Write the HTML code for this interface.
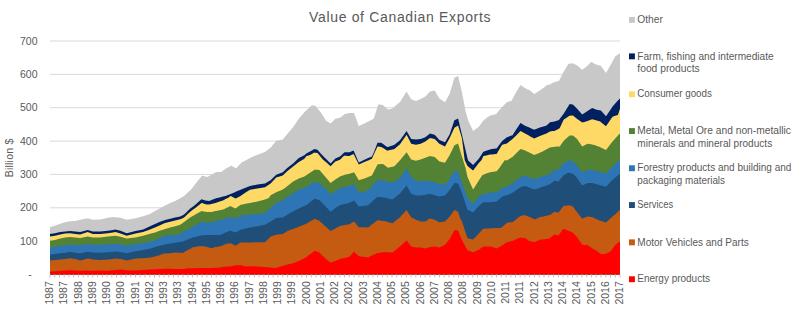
<!DOCTYPE html>
<html><head><meta charset="utf-8"><style>
html,body{margin:0;padding:0;background:#fff;}
body{width:800px;height:310px;overflow:hidden;}
svg{display:block;}
.ax{font-family:"Liberation Sans",sans-serif;font-size:10.5px;fill:#595959;}
.lg{font-family:"Liberation Sans",sans-serif;font-size:10.5px;fill:#595959;}
.tt{font-family:"Liberation Sans",sans-serif;font-size:14px;fill:#595959;}
</style></head><body>
<svg width="800" height="310" viewBox="0 0 800 310">
<rect width="800" height="310" fill="#fff"/>
<text x="31.8" y="278.1" text-anchor="end" class="ax">-</text><line x1="50" x2="620" y1="241.1" y2="241.1" stroke="#d9d9d9" stroke-width="1"/><text x="37.5" y="244.7" text-anchor="end" class="ax">100</text><line x1="50" x2="620" y1="207.8" y2="207.8" stroke="#d9d9d9" stroke-width="1"/><text x="37.5" y="211.4" text-anchor="end" class="ax">200</text><line x1="50" x2="620" y1="174.4" y2="174.4" stroke="#d9d9d9" stroke-width="1"/><text x="37.5" y="178.0" text-anchor="end" class="ax">300</text><line x1="50" x2="620" y1="141.1" y2="141.1" stroke="#d9d9d9" stroke-width="1"/><text x="37.5" y="144.7" text-anchor="end" class="ax">400</text><line x1="50" x2="620" y1="107.7" y2="107.7" stroke="#d9d9d9" stroke-width="1"/><text x="37.5" y="111.3" text-anchor="end" class="ax">500</text><line x1="50" x2="620" y1="74.4" y2="74.4" stroke="#d9d9d9" stroke-width="1"/><text x="37.5" y="78.0" text-anchor="end" class="ax">600</text><line x1="50" x2="620" y1="41.0" y2="41.0" stroke="#d9d9d9" stroke-width="1"/><text x="37.5" y="44.6" text-anchor="end" class="ax">700</text>
<polygon fill="#c8c8c8" points="50.0,274.5 50.0,227.0 55.0,225.7 60.1,223.8 65.1,222.3 70.1,221.3 75.2,221.0 80.2,219.8 87.7,218.2 92.8,219.8 100.3,219.4 107.9,217.8 112.9,216.9 115.4,217.2 120.5,217.8 126.7,219.8 135.5,218.2 143.1,216.3 150.0,214.0 155.0,210.9 160.1,208.3 163.8,206.2 165.1,205.4 170.1,202.9 175.2,201.0 180.2,198.3 182.7,196.8 184.0,196.0 185.2,194.9 187.7,192.6 190.3,190.3 190.9,189.7 192.8,187.3 195.3,184.1 200.3,177.8 201.6,176.2 202.2,175.4 205.4,176.5 207.3,177.1 209.1,176.1 210.4,175.3 211.6,174.6 215.4,172.5 216.1,172.1 220.5,172.1 221.1,172.1 223.0,170.7 225.5,168.8 226.1,168.3 228.0,167.4 230.5,166.1 231.2,165.8 235.5,168.0 236.2,168.3 240.6,163.5 241.2,162.8 245.6,160.4 250.0,158.0 257.5,154.7 265.0,151.9 268.8,149.0 270.6,147.7 274.4,142.9 276.2,140.7 282.8,139.4 285.6,136.0 287.5,133.8 293.1,127.2 298.8,118.7 304.4,112.2 306.2,110.5 310.0,107.0 311.9,105.3 314.2,105.7 314.7,105.8 315.6,106.0 317.5,108.4 319.4,110.8 321.2,113.1 323.1,116.1 325.0,119.1 325.9,120.6 330.6,123.4 335.3,118.8 340.0,117.8 344.2,114.5 344.7,114.1 349.4,113.1 353.6,113.1 354.1,113.2 358.8,125.9 364.4,123.4 368.1,121.6 371.9,119.7 373.8,118.6 377.5,107.0 378.4,104.2 381.2,104.8 383.1,105.2 385.0,106.9 387.3,108.9 387.8,109.4 392.5,108.4 394.4,106.8 400.0,102.0 406.6,91.6 411.2,99.3 415.9,100.9 420.6,99.0 425.3,96.6 430.0,91.5 434.7,90.4 439.4,98.5 445.0,102.2 449.7,93.7 454.4,77.8 458.1,75.9 460.0,83.9 461.9,92.0 464.7,106.8 465.6,111.5 467.5,118.1 468.0,119.8 468.4,121.1 473.1,130.9 478.8,126.8 481.6,122.9 482.5,121.6 483.4,120.4 486.2,118.2 490.0,115.6 491.9,115.3 496.1,114.1 496.6,113.4 499.4,110.0 501.2,107.9 502.2,106.9 505.0,104.1 506.9,102.2 511.6,100.8 512.5,99.1 516.2,92.0 520.0,85.8 520.5,85.0 524.6,87.7 525.5,88.3 525.8,88.5 526.1,88.7 529.3,90.0 529.4,90.0 531.2,91.5 534.3,94.0 534.4,93.9 534.8,93.7 539.3,90.7 539.8,90.4 542.5,88.5 544.4,87.2 545.8,85.9 546.5,85.3 549.5,84.5 550.0,84.4 553.1,82.6 553.7,82.4 554.4,82.2 558.4,81.0 559.0,80.8 559.7,79.4 563.6,71.8 564.3,70.7 567.3,65.7 568.3,64.1 569.6,63.8 572.2,63.2 572.9,63.4 576.9,65.2 582.2,69.7 586.1,67.1 587.5,65.7 591.4,61.8 592.1,62.2 596.0,64.4 596.7,64.7 599.4,65.4 600.0,65.6 600.7,65.8 601.3,66.6 606.0,73.0 611.3,63.7 612.6,61.3 615.2,56.6 617.9,54.6 619.9,53.2 620.0,53.2 620.0,274.5"/><polygon fill="#002060" points="50.0,274.5 50.0,233.9 55.0,233.2 60.1,232.0 65.1,231.4 70.1,231.1 75.2,231.6 80.2,232.0 87.7,229.9 92.8,231.4 100.3,231.6 107.9,230.7 112.9,229.9 115.4,229.5 120.5,230.7 126.7,233.2 135.5,231.1 143.1,229.5 150.0,226.3 155.0,223.9 160.1,221.8 163.8,220.4 165.1,219.9 170.1,218.7 175.2,217.6 180.2,216.4 182.7,215.2 184.0,214.6 185.2,213.4 187.7,211.0 190.3,208.5 190.9,208.1 192.8,206.7 195.3,204.8 200.3,200.3 201.6,199.2 202.2,199.4 205.4,200.4 207.3,200.7 209.1,201.0 210.4,200.5 211.6,200.0 215.4,198.5 216.1,198.3 220.5,197.2 221.1,197.1 223.0,196.6 225.5,196.0 226.1,195.7 228.0,195.0 230.5,193.9 231.2,193.7 235.5,191.9 236.2,191.6 240.6,189.8 241.2,189.5 245.6,187.7 250.0,185.9 257.5,184.6 265.0,183.5 268.8,181.3 270.6,180.3 274.4,176.5 276.2,174.7 282.8,172.3 285.6,169.6 287.5,167.8 293.1,163.5 298.8,157.9 304.4,155.3 306.2,153.5 310.0,151.6 311.9,150.5 314.2,149.1 314.7,149.2 315.6,149.3 317.5,149.7 319.4,151.9 321.2,153.9 323.1,156.1 325.0,157.9 325.9,158.8 330.6,163.4 335.3,158.4 340.0,156.5 344.2,152.4 344.7,152.3 349.4,152.2 353.6,150.6 354.1,151.7 358.8,162.5 364.4,159.7 368.1,158.1 371.9,156.4 373.8,152.4 377.5,142.8 378.4,142.8 381.2,142.8 383.1,144.1 385.0,145.4 387.3,147.0 387.8,146.9 392.5,145.4 394.4,144.8 400.0,140.3 406.6,131.1 411.2,139.0 415.9,139.6 420.6,139.1 425.3,137.2 430.0,133.4 434.7,134.8 439.4,140.0 445.0,142.2 449.7,134.3 454.4,120.3 458.1,118.4 460.0,126.4 461.9,134.5 464.7,146.4 465.6,150.2 467.5,158.3 468.0,160.3 468.4,160.7 473.1,165.0 478.8,158.8 481.6,154.5 482.5,153.1 483.4,151.7 486.2,150.7 490.0,149.4 491.9,149.1 496.1,148.5 496.6,148.4 499.4,144.7 501.2,142.3 502.2,140.9 505.0,138.7 506.9,137.2 511.6,135.6 512.5,135.3 516.2,129.6 520.0,123.7 520.5,123.0 524.6,125.4 525.5,125.9 525.8,126.1 526.1,126.3 529.3,127.6 529.4,127.6 531.2,128.4 534.3,129.7 534.4,129.6 534.8,129.5 539.3,127.7 539.8,127.5 542.5,126.7 544.4,126.2 545.8,125.8 546.5,125.5 549.5,122.7 550.0,122.2 553.1,121.8 553.7,121.8 554.4,121.5 558.4,120.2 559.0,120.0 559.7,119.0 563.6,113.7 564.3,112.7 567.3,107.8 568.3,106.2 569.6,104.1 572.2,104.4 572.9,104.5 576.9,108.5 582.2,114.6 586.1,112.0 587.5,111.0 591.4,108.5 592.1,108.0 596.0,109.5 596.7,109.8 599.4,110.2 600.0,110.3 600.7,110.4 601.3,111.1 606.0,116.3 611.3,108.4 612.6,106.4 615.2,103.6 617.9,100.6 619.9,98.5 620.0,98.5 620.0,274.5"/><polygon fill="#ffd966" points="50.0,274.5 50.0,236.4 55.0,235.8 60.1,234.5 65.1,233.6 70.1,233.2 75.2,233.9 80.2,234.5 87.7,232.0 92.8,233.9 100.3,234.1 107.9,233.2 112.9,232.4 115.4,232.0 120.5,233.6 126.7,235.7 135.5,233.6 143.1,232.0 150.0,229.4 155.0,227.5 160.1,225.2 163.8,223.6 165.1,223.0 170.1,221.8 175.2,220.5 180.2,219.3 182.7,218.2 184.0,217.6 185.2,216.5 187.7,214.1 190.3,211.7 190.9,211.2 192.8,209.8 195.3,207.9 200.3,203.9 201.6,202.9 202.2,203.1 205.4,204.2 207.3,204.4 209.1,204.6 210.4,204.2 211.6,203.9 215.4,202.9 216.1,202.7 220.5,201.2 221.1,201.0 223.0,200.4 225.5,199.1 226.1,198.8 228.0,197.9 230.5,196.0 231.2,196.3 235.5,198.5 236.2,198.2 240.6,196.0 241.2,195.6 245.6,192.6 250.0,189.7 257.5,188.4 265.0,187.2 268.8,184.7 270.6,183.5 274.4,179.5 276.2,177.6 282.8,175.6 285.6,172.8 287.5,170.9 293.1,166.6 298.8,162.1 304.4,158.7 306.2,156.3 310.0,155.0 311.9,153.9 314.2,152.6 314.7,152.7 315.6,152.8 317.5,153.1 319.4,155.3 321.2,157.4 323.1,159.7 325.0,161.3 325.9,162.1 330.6,166.2 335.3,161.6 340.0,159.7 344.2,155.6 344.7,155.7 349.4,155.9 353.6,154.0 354.1,155.0 358.8,164.4 364.4,162.1 368.1,160.4 371.9,158.7 373.8,154.6 377.5,146.5 378.4,146.6 381.2,146.9 383.1,147.9 385.0,149.2 387.3,150.7 387.8,150.6 392.5,149.5 394.4,149.0 400.0,144.3 406.6,134.8 411.2,143.7 415.9,144.7 420.6,143.8 425.3,141.5 430.0,138.1 434.7,139.1 439.4,143.8 445.0,146.6 449.7,138.1 454.4,127.8 458.1,125.4 460.0,131.8 461.9,138.3 464.7,160.0 465.6,161.9 467.5,165.9 468.0,166.3 468.4,166.7 473.1,170.4 478.8,163.1 481.6,159.9 482.5,158.0 483.4,156.0 486.2,155.4 490.0,154.6 491.9,154.5 496.1,154.1 496.6,154.0 499.4,149.3 501.2,146.3 502.2,144.7 505.0,143.9 506.9,143.4 511.6,139.8 512.5,139.1 516.2,135.4 520.0,131.5 520.5,131.1 524.6,133.3 525.5,133.8 525.8,134.0 526.1,134.1 529.3,135.8 529.4,135.9 531.2,136.9 534.3,138.5 534.4,138.5 534.8,138.3 539.3,136.2 539.8,136.0 542.5,135.0 544.4,134.3 545.8,133.8 546.5,133.5 549.5,131.8 550.0,131.6 553.1,131.1 553.7,131.0 554.4,130.9 558.4,128.9 559.0,128.6 559.7,128.2 563.6,119.8 564.3,119.2 567.3,117.2 568.3,116.6 569.6,115.7 572.2,115.6 572.9,115.6 576.9,118.7 582.2,122.6 586.1,121.4 587.5,120.9 591.4,119.6 592.1,119.3 596.0,120.3 596.7,120.5 599.4,121.2 600.0,121.3 600.7,121.9 601.3,122.4 606.0,126.2 611.3,118.5 612.6,116.7 615.2,115.8 617.9,114.9 619.9,109.1 620.0,109.1 620.0,274.5"/><polygon fill="#548235" points="50.0,274.5 50.0,240.8 55.0,239.9 60.1,238.6 65.1,237.4 70.1,237.0 75.2,237.6 80.2,238.0 87.7,236.4 92.8,237.4 100.3,237.4 107.9,236.6 112.9,236.1 115.4,235.8 120.5,236.7 126.7,238.6 135.5,237.4 143.1,235.8 150.0,233.8 155.0,232.5 160.1,230.6 163.8,229.4 165.1,229.0 170.1,227.5 175.2,226.2 180.2,224.7 182.7,222.9 184.0,222.0 185.2,221.2 187.7,219.3 190.3,217.4 190.9,217.0 192.8,216.0 195.3,214.6 200.3,211.8 201.6,211.1 202.2,211.2 205.4,211.7 207.3,211.9 209.1,212.0 210.4,212.1 211.6,211.9 215.4,211.1 216.1,211.0 220.5,210.1 221.1,210.0 223.0,209.6 225.5,208.4 226.1,208.1 228.0,207.2 230.5,206.1 231.2,206.4 235.5,208.6 236.2,208.1 240.6,204.8 241.2,204.7 245.6,203.8 250.0,203.0 257.5,201.4 265.0,199.6 268.8,198.0 270.6,195.3 274.4,193.3 276.2,192.3 282.8,189.5 285.6,187.4 287.5,186.0 293.1,181.5 298.8,178.4 304.4,176.5 306.2,175.3 310.0,172.8 311.9,171.5 314.2,170.0 314.7,169.6 315.6,169.7 317.5,169.8 319.4,170.0 321.2,172.1 323.1,174.3 325.0,176.6 325.9,177.6 330.6,183.1 335.3,179.4 340.0,176.6 344.2,174.9 344.7,174.7 349.4,173.7 353.6,172.4 354.1,172.3 358.8,180.3 364.4,178.4 368.1,177.0 371.9,175.6 373.8,171.8 377.5,164.4 378.4,164.3 381.2,164.1 383.1,164.0 385.0,165.5 387.3,167.3 387.8,167.7 392.5,166.7 394.4,166.2 400.0,160.2 406.6,152.2 411.2,159.6 415.9,160.8 420.6,159.6 425.3,157.8 430.0,155.9 434.7,156.9 439.4,161.5 445.0,162.7 449.7,155.0 454.4,145.2 458.1,143.4 460.0,150.0 461.9,156.6 464.7,165.3 465.6,168.0 467.5,176.9 468.0,178.0 468.4,178.9 473.1,189.6 478.8,180.5 481.6,176.3 482.5,175.0 483.4,174.7 486.2,173.6 490.0,172.2 491.9,171.9 496.1,171.3 496.6,171.2 499.4,168.1 501.2,165.3 502.2,163.7 505.0,160.0 506.9,160.6 511.6,157.5 512.5,156.9 516.2,153.2 520.0,149.4 520.5,148.9 524.6,150.3 525.5,150.7 525.8,150.8 526.1,150.9 529.3,152.5 529.4,152.5 531.2,153.4 534.3,154.9 534.4,155.0 534.8,154.8 539.3,153.1 539.8,152.8 542.5,151.4 544.4,150.4 545.8,149.7 546.5,149.3 549.5,147.8 550.0,147.5 553.1,147.0 553.7,146.9 554.4,146.7 558.4,146.5 559.0,146.5 559.7,146.4 563.6,140.9 564.3,140.2 567.3,137.5 568.3,136.7 569.6,135.5 572.2,135.5 572.9,135.5 576.9,138.8 582.2,146.5 586.1,144.5 587.5,143.8 591.4,144.3 592.1,144.4 596.0,145.6 596.7,145.9 599.4,146.8 600.0,147.1 600.7,147.4 601.3,147.7 606.0,150.0 611.3,143.1 612.6,141.4 615.2,138.6 617.9,135.6 619.9,133.5 620.0,133.5 620.0,274.5"/><polygon fill="#2e75b6" points="50.0,274.5 50.0,247.5 55.0,247.0 60.1,245.7 65.1,244.9 70.1,244.5 75.2,245.0 80.2,245.2 87.7,244.1 92.8,245.0 100.3,244.8 107.9,244.3 112.9,243.9 115.4,243.7 120.5,244.3 126.7,245.7 135.5,244.1 143.1,243.0 150.0,241.6 155.0,240.3 160.1,237.8 163.8,236.2 165.1,235.6 170.1,235.3 175.2,235.0 180.2,233.7 182.7,232.2 184.0,231.4 185.2,230.6 187.7,229.4 190.3,228.1 190.9,227.7 192.8,226.6 195.3,225.2 200.3,222.5 201.6,221.8 202.2,221.9 205.4,222.7 207.3,222.6 209.1,222.5 210.4,222.4 211.6,222.1 215.4,221.2 216.1,221.0 220.5,219.9 221.1,219.7 223.0,219.3 225.5,218.4 226.1,218.2 228.0,217.6 230.5,216.8 231.2,217.0 235.5,218.4 236.2,218.0 240.6,215.5 241.2,215.4 245.6,215.0 250.0,214.6 257.5,214.0 265.0,212.7 268.8,209.5 270.6,208.0 274.4,204.2 276.2,202.4 282.8,200.5 285.6,198.1 287.5,196.8 293.1,193.2 298.8,189.6 304.4,187.7 306.2,187.1 310.0,184.6 311.9,183.3 314.2,181.7 314.7,181.8 315.6,182.0 317.5,182.5 319.4,183.0 321.2,184.6 323.1,186.4 325.0,188.1 325.9,189.1 330.6,194.6 335.3,190.9 340.0,188.1 344.2,187.0 344.7,186.9 349.4,185.7 353.6,184.5 354.1,184.4 358.8,192.3 364.4,191.2 368.1,190.4 371.9,186.1 373.8,183.9 377.5,179.6 378.4,179.8 381.2,180.3 383.1,180.7 385.0,181.0 387.3,181.5 387.8,181.6 392.5,182.4 394.4,181.4 400.0,178.2 406.6,168.5 411.2,176.8 415.9,180.6 420.6,181.6 425.3,180.3 430.0,181.6 434.7,182.1 439.4,184.0 445.0,184.4 449.7,178.7 454.4,170.9 458.1,171.6 460.0,177.1 461.9,182.6 464.7,190.0 465.6,192.4 467.5,197.5 468.0,198.1 468.4,198.5 473.1,204.0 478.8,196.5 481.6,194.9 482.5,194.3 483.4,193.8 486.2,193.4 490.0,192.8 491.9,192.6 496.1,192.3 496.6,192.2 499.4,190.2 501.2,188.8 502.2,188.1 505.0,187.0 506.9,186.2 511.6,183.9 512.5,183.4 516.2,180.4 520.0,177.4 520.5,177.0 524.6,176.1 525.5,175.9 525.8,176.0 526.1,176.1 529.3,177.3 529.4,177.4 531.2,178.1 534.3,179.3 534.4,179.2 534.8,179.0 539.3,177.2 539.8,177.0 542.5,176.3 544.4,175.7 545.8,175.3 546.5,175.1 549.5,174.2 550.0,174.1 553.1,170.9 553.7,170.3 554.4,169.6 558.4,169.8 559.0,169.0 559.7,168.2 563.6,163.3 564.3,162.9 567.3,161.4 568.3,161.0 569.6,160.3 572.2,161.0 572.9,161.2 576.9,165.2 582.2,172.5 586.1,170.5 587.5,169.8 591.4,169.8 592.1,169.8 596.0,170.9 596.7,171.1 599.4,171.8 600.0,172.0 600.7,172.2 601.3,172.3 606.0,173.5 611.3,167.9 612.6,166.5 615.2,164.2 617.9,161.7 619.9,159.9 620.0,159.9 620.0,274.5"/><polygon fill="#1f4e79" points="50.0,274.5 50.0,254.5 55.0,254.1 60.1,253.2 65.1,252.8 70.1,251.8 75.2,252.7 80.2,253.3 87.7,251.7 92.8,252.5 100.3,252.7 107.9,252.2 112.9,251.7 115.4,251.4 120.5,252.0 126.7,253.3 135.5,251.3 143.1,250.1 150.0,248.7 155.0,247.0 160.1,245.7 163.8,244.8 165.1,244.4 170.1,243.6 175.2,242.8 180.2,242.0 182.7,241.5 184.0,241.0 185.2,240.5 187.7,239.4 190.3,238.4 190.9,238.2 192.8,237.5 195.3,236.9 200.3,235.6 201.6,235.5 202.2,235.4 205.4,235.0 207.3,235.0 209.1,235.0 210.4,235.0 211.6,235.0 215.4,235.0 216.1,235.0 220.5,235.0 221.1,234.7 223.0,233.7 225.5,232.5 226.1,232.3 228.0,231.5 230.5,230.6 231.2,230.9 235.5,232.5 236.2,232.1 240.6,229.7 241.2,229.6 245.6,228.5 250.0,227.5 257.5,226.3 265.0,224.7 268.8,222.4 270.6,221.4 274.4,219.2 276.2,218.1 282.8,217.4 285.6,215.7 287.5,214.6 293.1,211.4 298.8,208.4 304.4,206.0 306.2,205.2 310.0,202.3 311.9,200.8 314.2,199.0 314.7,198.6 315.6,198.9 317.5,199.5 319.4,200.1 321.2,201.9 323.1,203.9 325.0,205.8 325.9,206.7 330.6,211.7 335.3,208.0 340.0,205.2 344.2,204.1 344.7,204.0 349.4,202.7 353.6,200.7 354.1,200.5 358.8,206.5 364.4,205.7 368.1,205.2 371.9,201.8 373.8,200.1 377.5,196.8 378.4,196.9 381.2,197.2 383.1,197.4 385.0,197.7 387.3,198.3 387.8,198.4 392.5,199.6 394.4,198.0 400.0,193.6 406.6,185.4 411.2,193.7 415.9,195.6 420.6,195.6 425.3,194.7 430.0,193.8 434.7,195.3 439.4,196.6 445.0,195.6 449.7,190.0 454.4,182.9 458.1,183.4 460.0,188.1 461.9,192.9 464.7,201.3 465.6,204.0 467.5,209.7 468.0,209.9 468.4,210.1 473.1,212.5 478.8,205.9 481.6,203.7 482.5,202.9 483.4,202.2 486.2,202.2 490.0,202.2 491.9,202.0 496.1,201.7 496.6,201.6 499.4,199.1 501.2,197.5 502.2,196.6 505.0,195.8 506.9,195.2 511.6,193.2 512.5,192.8 516.2,190.2 520.0,187.4 520.5,187.1 524.6,186.2 525.5,186.0 525.8,186.1 526.1,186.2 529.3,187.6 529.4,187.6 531.2,188.4 534.3,189.6 534.4,189.6 534.8,189.5 539.3,187.9 539.8,187.7 542.5,186.8 544.4,186.2 545.8,185.7 546.5,185.4 549.5,184.2 550.0,184.0 553.1,181.7 553.7,181.2 554.4,180.7 558.4,181.4 559.0,180.7 559.7,179.9 563.6,175.2 564.3,174.8 567.3,173.2 568.3,172.8 569.6,173.1 572.2,173.6 572.9,173.8 576.9,177.8 582.2,185.4 586.1,183.7 587.5,183.1 591.4,183.1 592.1,183.1 596.0,184.1 596.7,184.3 599.4,185.1 600.0,185.2 600.7,185.4 601.3,185.6 606.0,186.7 611.3,181.1 612.6,179.7 615.2,177.6 617.9,175.4 619.9,173.8 620.0,173.8 620.0,274.5"/><polygon fill="#c55a11" points="50.0,274.5 50.0,260.4 55.0,260.1 60.1,259.5 65.1,258.9 70.1,258.2 75.2,259.1 80.2,260.4 87.7,258.6 92.8,259.5 100.3,259.9 107.9,259.5 112.9,258.9 115.4,258.6 120.5,259.1 126.7,260.4 135.5,258.6 143.1,258.2 150.0,257.5 155.0,256.4 160.1,255.1 163.8,253.6 165.1,253.5 170.1,253.2 175.2,252.6 180.2,252.8 182.7,252.9 184.0,252.2 185.2,251.5 187.7,250.1 190.3,248.7 190.9,248.4 192.8,247.3 195.3,246.9 200.3,246.1 201.6,246.2 202.2,246.3 205.4,246.6 207.3,247.1 209.1,247.5 210.4,247.9 211.6,248.2 215.4,247.0 216.1,246.9 220.5,246.3 221.1,246.0 223.0,245.2 225.5,244.1 226.1,244.0 228.0,243.6 230.5,243.2 231.2,243.5 235.5,245.7 236.2,245.3 240.6,242.5 241.2,242.5 245.6,242.5 250.0,242.5 257.5,242.2 265.0,242.2 268.8,238.4 270.6,236.6 274.4,235.2 276.2,234.8 282.8,234.0 285.6,232.2 287.5,231.0 293.1,228.9 298.8,226.7 304.4,224.5 306.2,223.7 310.0,221.6 311.9,220.5 314.2,219.1 314.7,218.8 315.6,219.2 317.5,220.0 319.4,220.7 321.2,222.5 323.1,224.3 325.0,226.1 325.9,226.8 330.6,230.9 335.3,228.5 340.0,226.1 344.2,225.2 344.7,225.1 349.4,224.2 353.6,221.7 354.1,221.4 358.8,227.2 364.4,227.3 368.1,227.4 371.9,224.5 373.8,223.0 377.5,220.2 378.4,220.3 381.2,220.7 383.1,220.9 385.0,221.2 387.3,221.8 387.8,222.0 392.5,223.2 394.4,221.8 400.0,217.3 406.6,209.9 411.2,217.3 415.9,219.7 420.6,221.6 425.3,221.6 430.0,218.4 434.7,219.8 439.4,222.2 445.0,221.6 449.7,216.4 454.4,209.9 458.1,211.7 460.0,218.1 461.9,221.3 464.7,229.7 465.6,232.4 467.5,238.1 468.0,238.3 468.4,238.4 473.1,239.6 478.8,233.4 481.6,230.6 482.5,229.7 483.4,228.8 486.2,228.6 490.0,228.4 491.9,228.3 496.1,228.1 496.6,228.0 499.4,227.9 501.2,227.8 502.2,227.0 505.0,224.4 506.9,222.7 511.6,222.3 512.5,222.2 516.2,219.2 520.0,216.2 520.5,216.1 524.6,215.0 525.5,215.4 525.8,215.5 526.1,215.6 529.3,217.0 529.4,217.0 531.2,217.8 534.3,219.2 534.4,219.2 534.8,219.4 539.3,217.4 539.8,217.1 542.5,216.7 544.4,216.3 545.8,215.9 546.5,215.8 549.5,215.1 550.0,215.0 553.1,212.8 553.7,212.3 554.4,211.8 558.4,212.7 559.0,211.9 559.7,211.0 563.6,205.9 564.3,205.8 567.3,205.5 568.3,205.4 569.6,205.2 572.2,206.3 572.9,206.5 576.9,211.9 582.2,218.8 586.1,217.1 587.5,216.5 591.4,217.0 592.1,217.1 596.0,218.9 596.7,219.2 599.4,220.4 600.0,220.6 600.7,220.8 601.3,221.0 606.0,222.4 611.3,217.6 612.6,216.4 615.2,214.2 617.9,211.8 619.9,210.1 620.0,210.1 620.0,274.5"/><polygon fill="#ff0000" points="50.0,274.5 50.0,271.5 55.0,271.2 60.1,270.8 65.1,270.4 70.1,270.2 75.2,270.6 80.2,270.8 87.7,270.6 92.8,270.8 100.3,270.6 107.9,270.8 112.9,270.2 115.4,269.9 120.5,269.6 126.7,270.2 135.5,270.4 143.1,269.9 150.0,269.6 155.0,269.2 160.1,269.0 163.8,268.8 165.1,268.7 170.1,268.7 175.2,269.0 180.2,269.0 182.7,269.0 184.0,268.8 185.2,268.7 187.7,268.3 190.3,268.3 190.9,268.3 192.8,268.3 195.3,268.2 200.3,268.0 201.6,268.0 202.2,268.0 205.4,268.0 207.3,268.0 209.1,268.0 210.4,268.0 211.6,268.0 215.4,267.7 216.1,267.7 220.5,267.4 221.1,267.3 223.0,266.9 225.5,266.5 226.1,266.5 228.0,266.5 230.5,266.5 231.2,266.3 235.5,265.2 236.2,265.2 240.6,265.2 241.2,265.3 245.6,266.4 250.0,266.2 257.5,266.6 265.0,267.0 268.8,267.4 270.6,267.6 274.4,267.9 276.2,268.1 282.8,265.7 285.6,264.9 287.5,264.4 293.1,263.3 298.8,261.0 304.4,258.2 306.2,257.3 310.0,254.3 311.9,252.9 314.2,251.1 314.7,250.7 315.6,251.1 317.5,251.8 319.4,252.6 321.2,254.4 323.1,256.3 325.0,258.2 325.9,258.9 330.6,262.5 335.3,261.0 340.0,259.1 344.2,258.1 344.7,258.0 349.4,256.8 353.6,252.1 354.1,251.7 358.8,256.3 364.4,256.9 368.1,257.2 371.9,255.6 373.8,254.8 377.5,253.1 378.4,253.0 381.2,252.6 383.1,252.3 385.0,252.0 387.3,252.2 387.8,252.2 392.5,252.6 394.4,251.0 400.0,246.6 406.6,240.4 411.2,246.5 415.9,247.5 420.6,247.5 425.3,248.4 430.0,247.1 434.7,246.6 439.4,247.5 445.0,244.7 449.7,239.0 454.4,230.3 458.1,230.6 460.0,235.3 461.9,240.0 464.7,245.2 465.6,246.8 467.5,250.3 468.0,250.5 468.4,250.6 473.1,252.2 478.8,249.7 481.6,247.8 482.5,247.2 483.4,246.6 486.2,246.6 490.0,246.6 491.9,247.1 496.1,248.3 496.6,248.4 499.4,247.0 501.2,246.1 502.2,245.6 505.0,243.6 506.9,242.2 511.6,241.1 512.5,240.9 516.2,239.3 520.0,237.7 520.5,237.5 524.6,238.2 525.5,238.3 525.8,238.5 526.1,238.7 529.3,240.9 529.4,240.9 531.2,241.5 534.3,242.0 534.4,242.0 534.8,242.0 539.3,240.0 539.8,239.8 542.5,239.6 544.4,239.3 545.8,239.0 546.5,238.9 549.5,238.4 550.0,238.0 553.1,235.5 553.7,235.1 554.4,234.5 558.4,235.5 559.0,234.7 559.7,233.8 563.6,228.6 564.3,228.9 567.3,230.3 568.3,230.7 569.6,231.3 572.2,232.4 572.9,232.7 576.9,236.9 582.2,244.8 586.1,245.0 587.5,245.1 591.4,247.7 592.1,248.2 596.0,250.4 596.7,250.8 599.4,252.9 600.0,253.3 600.7,253.9 601.3,254.3 606.0,253.8 611.3,250.7 612.6,248.8 615.2,244.9 617.9,242.9 619.9,241.5 620.0,241.5 620.0,274.5"/>
<line x1="50.00" x2="50.00" y1="274.5" y2="277.5" stroke="#bfbfbf" stroke-width="1"/><line x1="54.75" x2="54.75" y1="274.5" y2="277.5" stroke="#bfbfbf" stroke-width="1"/><line x1="59.50" x2="59.50" y1="274.5" y2="277.5" stroke="#bfbfbf" stroke-width="1"/><line x1="64.25" x2="64.25" y1="274.5" y2="277.5" stroke="#bfbfbf" stroke-width="1"/><line x1="69.00" x2="69.00" y1="274.5" y2="277.5" stroke="#bfbfbf" stroke-width="1"/><line x1="73.75" x2="73.75" y1="274.5" y2="277.5" stroke="#bfbfbf" stroke-width="1"/><line x1="78.50" x2="78.50" y1="274.5" y2="277.5" stroke="#bfbfbf" stroke-width="1"/><line x1="83.25" x2="83.25" y1="274.5" y2="277.5" stroke="#bfbfbf" stroke-width="1"/><line x1="88.00" x2="88.00" y1="274.5" y2="277.5" stroke="#bfbfbf" stroke-width="1"/><line x1="92.75" x2="92.75" y1="274.5" y2="277.5" stroke="#bfbfbf" stroke-width="1"/><line x1="97.50" x2="97.50" y1="274.5" y2="277.5" stroke="#bfbfbf" stroke-width="1"/><line x1="102.25" x2="102.25" y1="274.5" y2="277.5" stroke="#bfbfbf" stroke-width="1"/><line x1="107.00" x2="107.00" y1="274.5" y2="277.5" stroke="#bfbfbf" stroke-width="1"/><line x1="111.75" x2="111.75" y1="274.5" y2="277.5" stroke="#bfbfbf" stroke-width="1"/><line x1="116.50" x2="116.50" y1="274.5" y2="277.5" stroke="#bfbfbf" stroke-width="1"/><line x1="121.25" x2="121.25" y1="274.5" y2="277.5" stroke="#bfbfbf" stroke-width="1"/><line x1="126.00" x2="126.00" y1="274.5" y2="277.5" stroke="#bfbfbf" stroke-width="1"/><line x1="130.75" x2="130.75" y1="274.5" y2="277.5" stroke="#bfbfbf" stroke-width="1"/><line x1="135.50" x2="135.50" y1="274.5" y2="277.5" stroke="#bfbfbf" stroke-width="1"/><line x1="140.25" x2="140.25" y1="274.5" y2="277.5" stroke="#bfbfbf" stroke-width="1"/><line x1="145.00" x2="145.00" y1="274.5" y2="277.5" stroke="#bfbfbf" stroke-width="1"/><line x1="149.75" x2="149.75" y1="274.5" y2="277.5" stroke="#bfbfbf" stroke-width="1"/><line x1="154.50" x2="154.50" y1="274.5" y2="277.5" stroke="#bfbfbf" stroke-width="1"/><line x1="159.25" x2="159.25" y1="274.5" y2="277.5" stroke="#bfbfbf" stroke-width="1"/><line x1="164.00" x2="164.00" y1="274.5" y2="277.5" stroke="#bfbfbf" stroke-width="1"/><line x1="168.75" x2="168.75" y1="274.5" y2="277.5" stroke="#bfbfbf" stroke-width="1"/><line x1="173.50" x2="173.50" y1="274.5" y2="277.5" stroke="#bfbfbf" stroke-width="1"/><line x1="178.25" x2="178.25" y1="274.5" y2="277.5" stroke="#bfbfbf" stroke-width="1"/><line x1="183.00" x2="183.00" y1="274.5" y2="277.5" stroke="#bfbfbf" stroke-width="1"/><line x1="187.75" x2="187.75" y1="274.5" y2="277.5" stroke="#bfbfbf" stroke-width="1"/><line x1="192.50" x2="192.50" y1="274.5" y2="277.5" stroke="#bfbfbf" stroke-width="1"/><line x1="197.25" x2="197.25" y1="274.5" y2="277.5" stroke="#bfbfbf" stroke-width="1"/><line x1="202.00" x2="202.00" y1="274.5" y2="277.5" stroke="#bfbfbf" stroke-width="1"/><line x1="206.75" x2="206.75" y1="274.5" y2="277.5" stroke="#bfbfbf" stroke-width="1"/><line x1="211.50" x2="211.50" y1="274.5" y2="277.5" stroke="#bfbfbf" stroke-width="1"/><line x1="216.25" x2="216.25" y1="274.5" y2="277.5" stroke="#bfbfbf" stroke-width="1"/><line x1="221.00" x2="221.00" y1="274.5" y2="277.5" stroke="#bfbfbf" stroke-width="1"/><line x1="225.75" x2="225.75" y1="274.5" y2="277.5" stroke="#bfbfbf" stroke-width="1"/><line x1="230.50" x2="230.50" y1="274.5" y2="277.5" stroke="#bfbfbf" stroke-width="1"/><line x1="235.25" x2="235.25" y1="274.5" y2="277.5" stroke="#bfbfbf" stroke-width="1"/><line x1="240.00" x2="240.00" y1="274.5" y2="277.5" stroke="#bfbfbf" stroke-width="1"/><line x1="244.75" x2="244.75" y1="274.5" y2="277.5" stroke="#bfbfbf" stroke-width="1"/><line x1="249.50" x2="249.50" y1="274.5" y2="277.5" stroke="#bfbfbf" stroke-width="1"/><line x1="254.25" x2="254.25" y1="274.5" y2="277.5" stroke="#bfbfbf" stroke-width="1"/><line x1="259.00" x2="259.00" y1="274.5" y2="277.5" stroke="#bfbfbf" stroke-width="1"/><line x1="263.75" x2="263.75" y1="274.5" y2="277.5" stroke="#bfbfbf" stroke-width="1"/><line x1="268.50" x2="268.50" y1="274.5" y2="277.5" stroke="#bfbfbf" stroke-width="1"/><line x1="273.25" x2="273.25" y1="274.5" y2="277.5" stroke="#bfbfbf" stroke-width="1"/><line x1="278.00" x2="278.00" y1="274.5" y2="277.5" stroke="#bfbfbf" stroke-width="1"/><line x1="282.75" x2="282.75" y1="274.5" y2="277.5" stroke="#bfbfbf" stroke-width="1"/><line x1="287.50" x2="287.50" y1="274.5" y2="277.5" stroke="#bfbfbf" stroke-width="1"/><line x1="292.25" x2="292.25" y1="274.5" y2="277.5" stroke="#bfbfbf" stroke-width="1"/><line x1="297.00" x2="297.00" y1="274.5" y2="277.5" stroke="#bfbfbf" stroke-width="1"/><line x1="301.75" x2="301.75" y1="274.5" y2="277.5" stroke="#bfbfbf" stroke-width="1"/><line x1="306.50" x2="306.50" y1="274.5" y2="277.5" stroke="#bfbfbf" stroke-width="1"/><line x1="311.25" x2="311.25" y1="274.5" y2="277.5" stroke="#bfbfbf" stroke-width="1"/><line x1="316.00" x2="316.00" y1="274.5" y2="277.5" stroke="#bfbfbf" stroke-width="1"/><line x1="320.75" x2="320.75" y1="274.5" y2="277.5" stroke="#bfbfbf" stroke-width="1"/><line x1="325.50" x2="325.50" y1="274.5" y2="277.5" stroke="#bfbfbf" stroke-width="1"/><line x1="330.25" x2="330.25" y1="274.5" y2="277.5" stroke="#bfbfbf" stroke-width="1"/><line x1="335.00" x2="335.00" y1="274.5" y2="277.5" stroke="#bfbfbf" stroke-width="1"/><line x1="339.75" x2="339.75" y1="274.5" y2="277.5" stroke="#bfbfbf" stroke-width="1"/><line x1="344.50" x2="344.50" y1="274.5" y2="277.5" stroke="#bfbfbf" stroke-width="1"/><line x1="349.25" x2="349.25" y1="274.5" y2="277.5" stroke="#bfbfbf" stroke-width="1"/><line x1="354.00" x2="354.00" y1="274.5" y2="277.5" stroke="#bfbfbf" stroke-width="1"/><line x1="358.75" x2="358.75" y1="274.5" y2="277.5" stroke="#bfbfbf" stroke-width="1"/><line x1="363.50" x2="363.50" y1="274.5" y2="277.5" stroke="#bfbfbf" stroke-width="1"/><line x1="368.25" x2="368.25" y1="274.5" y2="277.5" stroke="#bfbfbf" stroke-width="1"/><line x1="373.00" x2="373.00" y1="274.5" y2="277.5" stroke="#bfbfbf" stroke-width="1"/><line x1="377.75" x2="377.75" y1="274.5" y2="277.5" stroke="#bfbfbf" stroke-width="1"/><line x1="382.50" x2="382.50" y1="274.5" y2="277.5" stroke="#bfbfbf" stroke-width="1"/><line x1="387.25" x2="387.25" y1="274.5" y2="277.5" stroke="#bfbfbf" stroke-width="1"/><line x1="392.00" x2="392.00" y1="274.5" y2="277.5" stroke="#bfbfbf" stroke-width="1"/><line x1="396.75" x2="396.75" y1="274.5" y2="277.5" stroke="#bfbfbf" stroke-width="1"/><line x1="401.50" x2="401.50" y1="274.5" y2="277.5" stroke="#bfbfbf" stroke-width="1"/><line x1="406.25" x2="406.25" y1="274.5" y2="277.5" stroke="#bfbfbf" stroke-width="1"/><line x1="411.00" x2="411.00" y1="274.5" y2="277.5" stroke="#bfbfbf" stroke-width="1"/><line x1="415.75" x2="415.75" y1="274.5" y2="277.5" stroke="#bfbfbf" stroke-width="1"/><line x1="420.50" x2="420.50" y1="274.5" y2="277.5" stroke="#bfbfbf" stroke-width="1"/><line x1="425.25" x2="425.25" y1="274.5" y2="277.5" stroke="#bfbfbf" stroke-width="1"/><line x1="430.00" x2="430.00" y1="274.5" y2="277.5" stroke="#bfbfbf" stroke-width="1"/><line x1="434.75" x2="434.75" y1="274.5" y2="277.5" stroke="#bfbfbf" stroke-width="1"/><line x1="439.50" x2="439.50" y1="274.5" y2="277.5" stroke="#bfbfbf" stroke-width="1"/><line x1="444.25" x2="444.25" y1="274.5" y2="277.5" stroke="#bfbfbf" stroke-width="1"/><line x1="449.00" x2="449.00" y1="274.5" y2="277.5" stroke="#bfbfbf" stroke-width="1"/><line x1="453.75" x2="453.75" y1="274.5" y2="277.5" stroke="#bfbfbf" stroke-width="1"/><line x1="458.50" x2="458.50" y1="274.5" y2="277.5" stroke="#bfbfbf" stroke-width="1"/><line x1="463.25" x2="463.25" y1="274.5" y2="277.5" stroke="#bfbfbf" stroke-width="1"/><line x1="468.00" x2="468.00" y1="274.5" y2="277.5" stroke="#bfbfbf" stroke-width="1"/><line x1="472.75" x2="472.75" y1="274.5" y2="277.5" stroke="#bfbfbf" stroke-width="1"/><line x1="477.50" x2="477.50" y1="274.5" y2="277.5" stroke="#bfbfbf" stroke-width="1"/><line x1="482.25" x2="482.25" y1="274.5" y2="277.5" stroke="#bfbfbf" stroke-width="1"/><line x1="487.00" x2="487.00" y1="274.5" y2="277.5" stroke="#bfbfbf" stroke-width="1"/><line x1="491.75" x2="491.75" y1="274.5" y2="277.5" stroke="#bfbfbf" stroke-width="1"/><line x1="496.50" x2="496.50" y1="274.5" y2="277.5" stroke="#bfbfbf" stroke-width="1"/><line x1="501.25" x2="501.25" y1="274.5" y2="277.5" stroke="#bfbfbf" stroke-width="1"/><line x1="506.00" x2="506.00" y1="274.5" y2="277.5" stroke="#bfbfbf" stroke-width="1"/><line x1="510.75" x2="510.75" y1="274.5" y2="277.5" stroke="#bfbfbf" stroke-width="1"/><line x1="515.50" x2="515.50" y1="274.5" y2="277.5" stroke="#bfbfbf" stroke-width="1"/><line x1="520.25" x2="520.25" y1="274.5" y2="277.5" stroke="#bfbfbf" stroke-width="1"/><line x1="525.00" x2="525.00" y1="274.5" y2="277.5" stroke="#bfbfbf" stroke-width="1"/><line x1="529.75" x2="529.75" y1="274.5" y2="277.5" stroke="#bfbfbf" stroke-width="1"/><line x1="534.50" x2="534.50" y1="274.5" y2="277.5" stroke="#bfbfbf" stroke-width="1"/><line x1="539.25" x2="539.25" y1="274.5" y2="277.5" stroke="#bfbfbf" stroke-width="1"/><line x1="544.00" x2="544.00" y1="274.5" y2="277.5" stroke="#bfbfbf" stroke-width="1"/><line x1="548.75" x2="548.75" y1="274.5" y2="277.5" stroke="#bfbfbf" stroke-width="1"/><line x1="553.50" x2="553.50" y1="274.5" y2="277.5" stroke="#bfbfbf" stroke-width="1"/><line x1="558.25" x2="558.25" y1="274.5" y2="277.5" stroke="#bfbfbf" stroke-width="1"/><line x1="563.00" x2="563.00" y1="274.5" y2="277.5" stroke="#bfbfbf" stroke-width="1"/><line x1="567.75" x2="567.75" y1="274.5" y2="277.5" stroke="#bfbfbf" stroke-width="1"/><line x1="572.50" x2="572.50" y1="274.5" y2="277.5" stroke="#bfbfbf" stroke-width="1"/><line x1="577.25" x2="577.25" y1="274.5" y2="277.5" stroke="#bfbfbf" stroke-width="1"/><line x1="582.00" x2="582.00" y1="274.5" y2="277.5" stroke="#bfbfbf" stroke-width="1"/><line x1="586.75" x2="586.75" y1="274.5" y2="277.5" stroke="#bfbfbf" stroke-width="1"/><line x1="591.50" x2="591.50" y1="274.5" y2="277.5" stroke="#bfbfbf" stroke-width="1"/><line x1="596.25" x2="596.25" y1="274.5" y2="277.5" stroke="#bfbfbf" stroke-width="1"/><line x1="601.00" x2="601.00" y1="274.5" y2="277.5" stroke="#bfbfbf" stroke-width="1"/><line x1="605.75" x2="605.75" y1="274.5" y2="277.5" stroke="#bfbfbf" stroke-width="1"/><line x1="610.50" x2="610.50" y1="274.5" y2="277.5" stroke="#bfbfbf" stroke-width="1"/><line x1="615.25" x2="615.25" y1="274.5" y2="277.5" stroke="#bfbfbf" stroke-width="1"/><line x1="620.00" x2="620.00" y1="274.5" y2="277.5" stroke="#bfbfbf" stroke-width="1"/>
<text transform="translate(53.20,281.2) rotate(-90)" text-anchor="end" class="ax">1987</text><text transform="translate(67.45,281.2) rotate(-90)" text-anchor="end" class="ax">1987</text><text transform="translate(81.70,281.2) rotate(-90)" text-anchor="end" class="ax">1988</text><text transform="translate(95.95,281.2) rotate(-90)" text-anchor="end" class="ax">1989</text><text transform="translate(110.20,281.2) rotate(-90)" text-anchor="end" class="ax">1990</text><text transform="translate(124.45,281.2) rotate(-90)" text-anchor="end" class="ax">1990</text><text transform="translate(138.70,281.2) rotate(-90)" text-anchor="end" class="ax">1991</text><text transform="translate(152.95,281.2) rotate(-90)" text-anchor="end" class="ax">1992</text><text transform="translate(167.20,281.2) rotate(-90)" text-anchor="end" class="ax">1993</text><text transform="translate(181.45,281.2) rotate(-90)" text-anchor="end" class="ax">1993</text><text transform="translate(195.70,281.2) rotate(-90)" text-anchor="end" class="ax">1994</text><text transform="translate(209.95,281.2) rotate(-90)" text-anchor="end" class="ax">1995</text><text transform="translate(224.20,281.2) rotate(-90)" text-anchor="end" class="ax">1996</text><text transform="translate(238.45,281.2) rotate(-90)" text-anchor="end" class="ax">1996</text><text transform="translate(252.70,281.2) rotate(-90)" text-anchor="end" class="ax">1997</text><text transform="translate(266.95,281.2) rotate(-90)" text-anchor="end" class="ax">1998</text><text transform="translate(281.20,281.2) rotate(-90)" text-anchor="end" class="ax">1999</text><text transform="translate(295.45,281.2) rotate(-90)" text-anchor="end" class="ax">1999</text><text transform="translate(309.70,281.2) rotate(-90)" text-anchor="end" class="ax">2000</text><text transform="translate(323.95,281.2) rotate(-90)" text-anchor="end" class="ax">2001</text><text transform="translate(338.20,281.2) rotate(-90)" text-anchor="end" class="ax">2002</text><text transform="translate(352.45,281.2) rotate(-90)" text-anchor="end" class="ax">2002</text><text transform="translate(366.70,281.2) rotate(-90)" text-anchor="end" class="ax">2003</text><text transform="translate(380.95,281.2) rotate(-90)" text-anchor="end" class="ax">2004</text><text transform="translate(395.20,281.2) rotate(-90)" text-anchor="end" class="ax">2005</text><text transform="translate(409.45,281.2) rotate(-90)" text-anchor="end" class="ax">2005</text><text transform="translate(423.70,281.2) rotate(-90)" text-anchor="end" class="ax">2006</text><text transform="translate(437.95,281.2) rotate(-90)" text-anchor="end" class="ax">2007</text><text transform="translate(452.20,281.2) rotate(-90)" text-anchor="end" class="ax">2008</text><text transform="translate(466.45,281.2) rotate(-90)" text-anchor="end" class="ax">2008</text><text transform="translate(480.70,281.2) rotate(-90)" text-anchor="end" class="ax">2009</text><text transform="translate(494.95,281.2) rotate(-90)" text-anchor="end" class="ax">2010</text><text transform="translate(509.20,281.2) rotate(-90)" text-anchor="end" class="ax">2011</text><text transform="translate(523.45,281.2) rotate(-90)" text-anchor="end" class="ax">2011</text><text transform="translate(537.70,281.2) rotate(-90)" text-anchor="end" class="ax">2012</text><text transform="translate(551.95,281.2) rotate(-90)" text-anchor="end" class="ax">2013</text><text transform="translate(566.20,281.2) rotate(-90)" text-anchor="end" class="ax">2014</text><text transform="translate(580.45,281.2) rotate(-90)" text-anchor="end" class="ax">2014</text><text transform="translate(594.70,281.2) rotate(-90)" text-anchor="end" class="ax">2015</text><text transform="translate(608.95,281.2) rotate(-90)" text-anchor="end" class="ax">2016</text><text transform="translate(623.20,281.2) rotate(-90)" text-anchor="end" class="ax">2017</text>
<text x="309" y="21.9" class="tt" textLength="181.5" lengthAdjust="spacing">Value of Canadian Exports</text>
<text transform="translate(12.8,177.3) rotate(-90)" class="ax" textLength="38.6" lengthAdjust="spacing">Billion $</text>
<rect x="629" y="16.9" width="5.9" height="5.9" fill="#c8c8c8"/><text x="637.3" y="22.9" class="lg" textLength="25.6" lengthAdjust="spacingAndGlyphs">Other</text><rect x="629" y="53.4" width="5.9" height="5.9" fill="#002060"/><text x="637.3" y="59.5" class="lg" textLength="136.3" lengthAdjust="spacingAndGlyphs">Farm, fishing and intermediate</text><text x="637.3" y="72.1" class="lg" textLength="62.4" lengthAdjust="spacingAndGlyphs">food products</text><rect x="629" y="91.3" width="5.9" height="5.9" fill="#ffd966"/><text x="637.3" y="97.4" class="lg" textLength="74.6" lengthAdjust="spacingAndGlyphs">Consumer goods</text><rect x="629" y="128.1" width="5.9" height="5.9" fill="#548235"/><text x="637.3" y="134.2" class="lg" textLength="153.60000000000002" lengthAdjust="spacingAndGlyphs">Metal, Metal Ore and non-metallic</text><text x="637.3" y="146.8" class="lg" textLength="134.9" lengthAdjust="spacingAndGlyphs">minerals and mineral products</text><rect x="629" y="165.3" width="5.9" height="5.9" fill="#2e75b6"/><text x="637.3" y="171.4" class="lg" textLength="154.10000000000002" lengthAdjust="spacingAndGlyphs">Forestry products and building and</text><text x="637.3" y="184.0" class="lg" textLength="87.7" lengthAdjust="spacingAndGlyphs">packaging materials</text><rect x="629" y="202.1" width="5.9" height="5.9" fill="#1f4e79"/><text x="637.3" y="208.2" class="lg" textLength="35.8" lengthAdjust="spacingAndGlyphs">Services</text><rect x="629" y="239.4" width="5.9" height="5.9" fill="#c55a11"/><text x="637.3" y="245.5" class="lg" textLength="111.39999999999999" lengthAdjust="spacingAndGlyphs">Motor Vehicles and Parts</text><rect x="629" y="276.3" width="5.9" height="5.9" fill="#ff0000"/><text x="637.3" y="282.4" class="lg" textLength="72.6" lengthAdjust="spacingAndGlyphs">Energy products</text>
</svg>
</body></html>
